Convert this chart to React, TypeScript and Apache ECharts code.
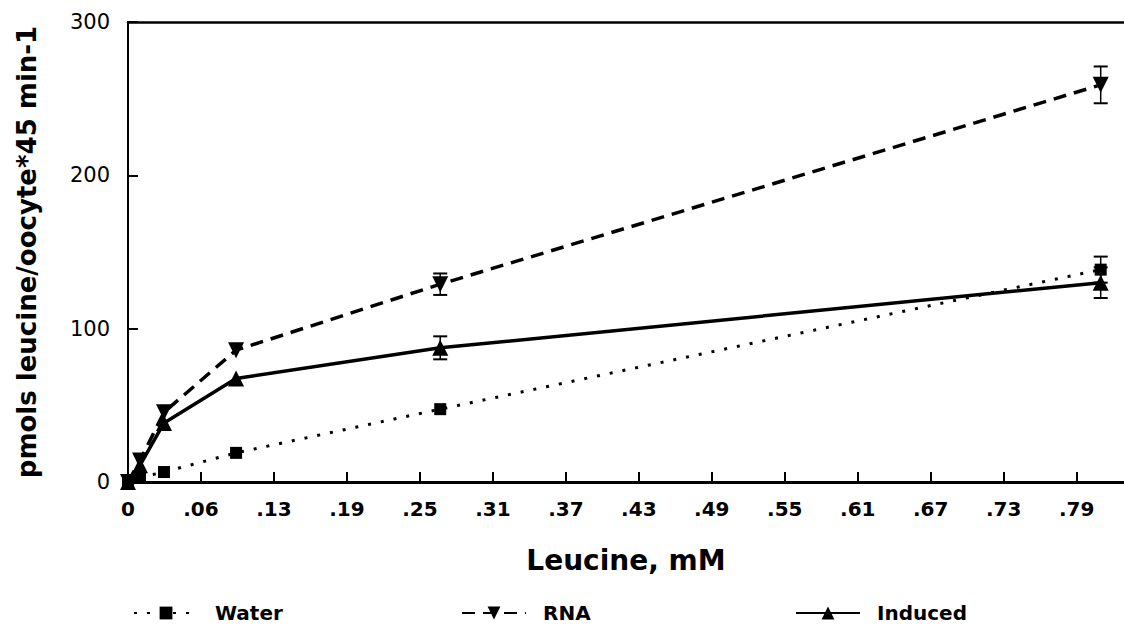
import React, { useEffect, useRef } from "react";
import * as echarts from "echarts";

const xValues = [0, 0.01, 0.03, 0.09, 0.26, 0.81];
const waterValues = [0, 3, 6.5, 19, 47.5, 138.5];
const rnaValues = [0, 14, 45.5, 86, 129, 259];
const inducedValues = [0, 11, 38.5, 67.5, 87.5, 130];
const waterErr = [0, 0, 0, 0, 0, 8.5];
const rnaErr = [0, 0, 0, 0, 7, 12];
const inducedErr = [0, 0, 0, 0, 7.5, 10];
const xTickLabels = ["0", ".06", ".13", ".19", ".25", ".31", ".37", ".43", ".49", ".55", ".61", ".67", ".73", ".79"];
const yTickLabels = ["0", "100", "200", "300"];
const seriesNames = ["Water", "RNA", "Induced"];

const X_INTERVAL = 0.79 / 13;
const X_MAX = 0.8294;
const FONT = "DejaVu Sans";

function pairs(vals: number[]) {
  return xValues.map((x, i) => [x, vals[i]]);
}
function errData(vals: number[], errs: number[]) {
  return xValues
    .map((x, i) => [x, vals[i], errs[i]])
    .filter((d) => d[2] > 0);
}

const renderErr = (params: any, api: any) => {
  const x = api.value(0);
  const v = api.value(1);
  const e = api.value(2);
  const top = api.coord([x, v + e]);
  const bot = api.coord([x, v - e]);
  const hw = 7;
  return {
    type: "group",
    children: [
      { type: "line", shape: { x1: top[0], y1: top[1], x2: bot[0], y2: bot[1] }, style: { stroke: "#000", lineWidth: 1.5 } },
      { type: "line", shape: { x1: top[0] - hw, y1: top[1], x2: top[0] + hw, y2: top[1] }, style: { stroke: "#000", lineWidth: 2 } },
      { type: "line", shape: { x1: bot[0] - hw, y1: bot[1], x2: bot[0] + hw, y2: bot[1] }, style: { stroke: "#000", lineWidth: 2 } },
    ],
  };
};

const legendText = { fontFamily: FONT, fontWeight: "bold", fontSize: 20, color: "#000", padding: [0, 0, 0, 12] };

export default function App() {
  const ref = useRef<HTMLDivElement>(null);
  useEffect(() => {
    if (!ref.current) return;
    const chart = echarts.init(ref.current, undefined, { renderer: "svg" });
    chart.setOption({
      animation: false,
      backgroundColor: "#fff",
      grid: { left: 128, right: 0, top: 22, bottom: 147 },
      legend: [
        { data: [seriesNames[0]], left: 128, top: 598, itemWidth: 64, itemHeight: 16, textStyle: legendText },
        { data: [seriesNames[1]], left: 456, top: 598, itemWidth: 64, itemHeight: 16, textStyle: legendText },
        { data: [seriesNames[2]], left: 790, top: 598, itemWidth: 64, itemHeight: 16, textStyle: legendText },
      ],
      xAxis: [
        {
          type: "value",
          min: 0,
          max: X_MAX,
          interval: X_INTERVAL,
          name: "Leucine, mM",
          nameLocation: "middle",
          nameGap: 64,
          nameTextStyle: { fontFamily: FONT, fontWeight: "bold", fontSize: 28, color: "#000" },
          axisLine: { show: true, onZero: false, lineStyle: { color: "#000", width: 3 } },
          axisTick: { show: true, inside: true, length: 10, lineStyle: { color: "#000", width: 2 } },
          splitLine: { show: false },
          axisLabel: {
            margin: 17,
            fontFamily: FONT,
            fontWeight: "bold",
            fontSize: 20,
            color: "#000",
            showMaxLabel: false,
            formatter: (v: number) => {
              const idx = Math.round(v / X_INTERVAL);
              if (Math.abs(v - idx * X_INTERVAL) > 1e-6) return "";
              return xTickLabels[idx] ?? "";
            },
          },
        },
        {
          type: "value",
          position: "top",
          min: 0,
          max: X_MAX,
          axisLine: { show: true, onZero: false, lineStyle: { color: "#000", width: 2.5 } },
          axisTick: { show: false },
          axisLabel: { show: false },
          splitLine: { show: false },
        },
      ],
      yAxis: {
        type: "value",
        min: 0,
        max: 300,
        interval: 100,
        name: "pmols leucine/oocyte*45 min-1",
        nameLocation: "middle",
        nameRotate: 90,
        nameGap: 88,
        nameTextStyle: { fontFamily: FONT, fontWeight: "bold", fontSize: 26, color: "#000" },
        axisLine: { show: true, onZero: false, lineStyle: { color: "#000", width: 2 } },
        axisTick: { show: true, inside: true, length: 10, lineStyle: { color: "#000", width: 2 } },
        splitLine: { show: false },
        axisLabel: {
          margin: 18,
          fontFamily: FONT,
          fontSize: 21,
          color: "#000",
          formatter: (v: number) => yTickLabels[Math.round(v / 100)] ?? "",
        },
      },
      series: [
        {
          name: seriesNames[0],
          type: "line",
          data: pairs(waterValues),
          symbol: "rect",
          symbolSize: 12,
          itemStyle: { color: "#000" },
          lineStyle: { color: "#000", width: 3, type: [3, 10] },
          z: 3,
        },
        {
          name: seriesNames[1],
          type: "line",
          data: pairs(rnaValues),
          symbol: "triangle",
          symbolRotate: 180,
          symbolSize: 16,
          itemStyle: { color: "#000" },
          lineStyle: { color: "#000", width: 3.5, type: [13, 8] },
          z: 3,
        },
        {
          name: seriesNames[2],
          type: "line",
          data: pairs(inducedValues),
          symbol: "triangle",
          symbolSize: 16,
          itemStyle: { color: "#000" },
          lineStyle: { color: "#000", width: 3.5, type: "solid" },
          z: 3,
        },
        { name: "errWater", type: "custom", renderItem: renderErr, data: errData(waterValues, waterErr), z: 2 },
        { name: "errRNA", type: "custom", renderItem: renderErr, data: errData(rnaValues, rnaErr), z: 2 },
        { name: "errInduced", type: "custom", renderItem: renderErr, data: errData(inducedValues, inducedErr), z: 2 },
      ],
    });
    return () => chart.dispose();
  }, []);
  return (
    <div
      ref={ref}
      style={{ position: "absolute", left: 0, top: 0, width: 1124, height: 629, background: "#fff" }}
    />
  );
}
